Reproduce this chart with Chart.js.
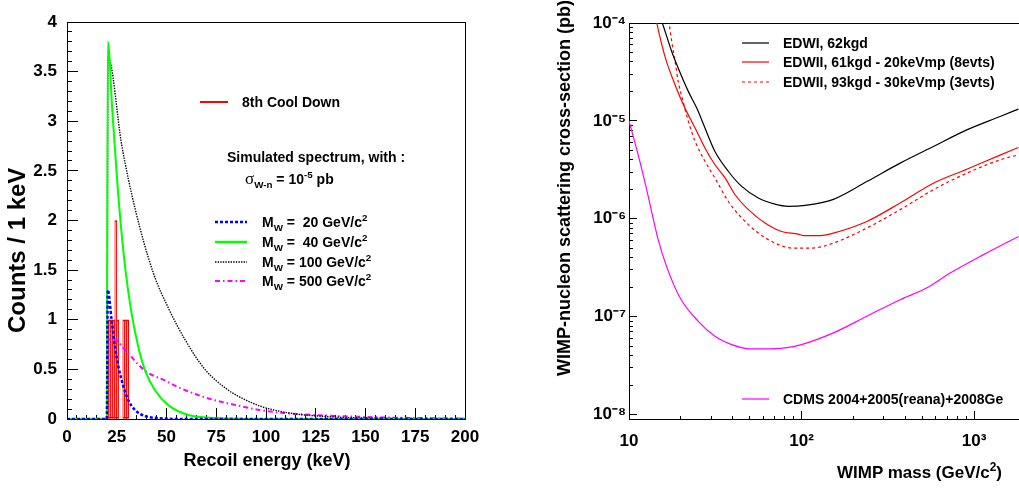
<!DOCTYPE html>
<html>
<head>
<meta charset="utf-8">
<title>Recoil spectrum and WIMP cross-section limits</title>
<script src="https://cdn.jsdelivr.net/npm/chart.js@4.4.1/dist/chart.umd.min.js"></script>
<style>
  html, body { margin: 0; padding: 0; background: #fff; }
  body { position: relative; width: 1019px; height: 489px; overflow: hidden;
         font-family: "Liberation Sans", Arial, Helvetica, sans-serif; font-weight: bold; color: #000; }
  .box { position: absolute; top: 0; height: 489px; }
  #spectrumBox { left: 0; width: 500px; }
  #limitBox { left: 500px; width: 535px; }
  .txt { position: absolute; white-space: pre; font-size: 14px; line-height: 16px; }
  .smp { position: absolute; }
  .ttl { position: absolute; white-space: pre; line-height: 22px; }
  .vert { writing-mode: vertical-rl; transform: rotate(180deg); }
  sub, sup { font-size: 70%; line-height: 0; }
  .sym { font-family: "Liberation Serif", "DejaVu Serif", serif; font-weight: normal; font-size: 17px; }
</style>
</head>
<body>
<div class="box" id="spectrumBox"><canvas id="spectrumChart"></canvas></div>
<div class="box" id="limitBox"><canvas id="limitChart"></canvas></div>

<!-- left panel: legend and notes -->
<svg class="smp" style="left:200px;top:96px" width="28" height="12"><line x1="0" y1="6" x2="28" y2="6" stroke="#ff0000" stroke-width="2"/></svg>
<div class="txt" style="left:242px;top:94px">8th Cool Down</div>
<div class="txt" style="left:227px;top:149px">Simulated spectrum, with :</div>
<div class="txt" style="left:245px;top:171px"><span class="sym">σ</span><sub>W-n</sub> = 10<sup>-5</sup> pb</div>

<svg class="smp" style="left:215px;top:216px" width="32" height="12"><line x1="0" y1="6" x2="32" y2="6" stroke="#0000ff" stroke-width="2.5" stroke-dasharray="3 2"/></svg>
<div class="txt" style="left:262px;top:214px">M<sub>W</sub> =  20 GeV/c<sup>2</sup></div>
<svg class="smp" style="left:215px;top:236px" width="32" height="12"><line x1="0" y1="6" x2="32" y2="6" stroke="#00ff00" stroke-width="2.5"/></svg>
<div class="txt" style="left:262px;top:234px">M<sub>W</sub> =  40 GeV/c<sup>2</sup></div>
<svg class="smp" style="left:215px;top:256px" width="32" height="12"><line x1="0" y1="6" x2="32" y2="6" stroke="#000" stroke-width="1.4" stroke-dasharray="1.4 1.2"/></svg>
<div class="txt" style="left:262px;top:254px">M<sub>W</sub> = 100 GeV/c<sup>2</sup></div>
<svg class="smp" style="left:215px;top:275px" width="32" height="12"><line x1="0" y1="6" x2="32" y2="6" stroke="#ff00ff" stroke-width="2" stroke-dasharray="5 3 1.5 3"/></svg>
<div class="txt" style="left:262px;top:273px">M<sub>W</sub> = 500 GeV/c<sup>2</sup></div>

<div class="ttl" style="left:117px;top:449px;width:300px;text-align:center;font-size:18px">Recoil energy (keV)</div>
<div class="ttl vert" style="left:6px;top:100px;height:300px;width:24px;text-align:center;font-size:24px">Counts / 1 keV</div>

<!-- right panel: legend and titles -->
<svg class="smp" style="left:742px;top:37px" width="27" height="12"><line x1="0" y1="6" x2="27" y2="6" stroke="#000" stroke-width="1.2"/></svg>
<div class="txt" style="left:783px;top:35px">EDWI, 62kgd</div>
<svg class="smp" style="left:742px;top:56px" width="27" height="12"><line x1="0" y1="6" x2="27" y2="6" stroke="#ff0000" stroke-width="1.2"/></svg>
<div class="txt" style="left:783px;top:54px">EDWII, 61kgd - 20keVmp (8evts)</div>
<svg class="smp" style="left:742px;top:76px" width="27" height="12"><line x1="0" y1="6" x2="27" y2="6" stroke="#ff0000" stroke-width="1.2" stroke-dasharray="3 3"/></svg>
<div class="txt" style="left:783px;top:74px">EDWII, 93kgd - 30keVmp (3evts)</div>
<svg class="smp" style="left:742px;top:393px" width="27" height="12"><line x1="0" y1="6" x2="27" y2="6" stroke="#ff00ff" stroke-width="1.2"/></svg>
<div class="txt" style="left:783px;top:391px">CDMS 2004+2005(reana)+2008Ge</div>

<div class="ttl" style="left:700px;top:462px;width:302px;text-align:right;font-size:17px">WIMP mass (GeV/c<sup>2</sup>)</div>
<div class="ttl vert" style="left:553px;top:0px;width:22px;font-size:18px">WIMP-nucleon scattering cross-section (pb)</div>

<script>
// ---- left panel : 8th cool down events and simulated spectra (counts / 1 keV) ----
const coolDownBins   = [20.5, 21.5, 22.5, 23.5, 24.5, 25.5, 28.5, 29.5, 30.5];
const coolDownCounts = [1, 1, 1, 1, 2, 1, 1, 1, 1];

const m20Energy = [0, 20, 20.5, 22.4, 24.1, 25.8, 28.3, 30.8, 34.2, 39.2, 45, 60, 200];
const m20Counts = [0, 0, 1.30, 1.00, 0.73, 0.53, 0.33, 0.19, 0.09, 0.03, 0.01, 0, 0];

const m40Energy = [0, 20, 20.5, 22.8, 26.2, 29.5, 32.5, 35.8, 39.2, 44.2, 50.9, 61, 75, 100, 200];
const m40Counts = [0, 0, 3.80, 3.10, 2.15, 1.48, 1.06, 0.73, 0.49, 0.29, 0.14, 0.04, 0.01, 0, 0];

const m100Energy = [0, 20, 20.6, 27.5, 34.2, 43.4, 50.9, 59.3, 69.3, 81.1, 87, 97, 112, 130, 150, 175, 200];
const m100Counts = [0, 0, 3.65, 2.76, 2.12, 1.47, 1.12, 0.80, 0.50, 0.29, 0.22, 0.13, 0.06, 0.025, 0.01, 0.004, 0.001];

const m500Energy = [0, 20, 20.5, 24, 29, 39, 50, 56, 69, 87, 97, 112, 130, 150, 175, 200];
const m500Counts = [0, 0, 0.80, 0.80, 0.70, 0.49, 0.38, 0.32, 0.22, 0.13, 0.09, 0.055, 0.035, 0.02, 0.01, 0.005];

// ---- right panel : WIMP-nucleon cross-section limits (pb) vs WIMP mass (GeV/c2) ----
const edw1Mass = [15, 15.6, 17.7, 19.3, 22.1, 24.7, 27.6, 31.5, 37.7, 45, 56.2, 70.2, 83.8, 105, 153, 239, 373, 581, 907, 1416, 1807];
const edw1Xsec = [1.2e-4, 1.0e-4, 5.09e-5, 3.45e-5, 1.99e-5, 1.35e-5, 8.41e-6, 4.86e-6, 3.04e-6, 2.14e-6, 1.63e-6, 1.41e-6,
                  1.34e-6, 1.37e-6, 1.58e-6, 2.40e-6, 3.70e-6, 5.47e-6, 8.09e-6, 1.11e-5, 1.32e-5];

const edw2Mass = [14, 14.5, 15.5, 16.5, 18.5, 21.1, 24.2, 27.6, 31.5, 36.1, 41.2, 49.2, 61.4, 76.7, 95.7, 103, 125, 153, 239, 373, 581, 907, 1416, 1807];
const edw2Xsec = [1.41e-4, 1.0e-4, 5.97e-5, 4.03e-5, 2.33e-5, 1.35e-5, 8.41e-6, 5.26e-6, 3.56e-6, 2.60e-6, 1.76e-6, 1.24e-6,
                  9.04e-7, 7.41e-7, 6.98e-7, 6.71e-7, 6.71e-7, 7.14e-7, 9.38e-7, 1.45e-6, 2.31e-6, 3.21e-6, 4.47e-6, 5.35e-6];

const edw2bMass = [16.8, 17.1, 17.7, 18.5, 19.3, 20.6, 22.1, 24.2, 27.6, 31.5, 37.7, 45, 56.2, 70.2, 88, 115, 153, 239, 373, 581, 907, 1416, 1807];
const edw2bXsec = [1.41e-4, 1.0e-4, 6.44e-5, 4.03e-5, 2.52e-5, 1.57e-5, 9.84e-6, 6.15e-6, 3.85e-6, 2.60e-6, 1.50e-6, 1.02e-6,
                   7.14e-7, 5.65e-7, 5.02e-7, 5.02e-7, 5.65e-7, 8.04e-7, 1.24e-6, 1.98e-6, 2.92e-6, 4.00e-6, 4.50e-6];

const cdmsMass = [10, 11.3, 12.6, 14.7, 16.5, 19.8, 25.2, 31.5, 39.4, 50.3, 61.4, 80.2, 100, 153, 239, 373, 530, 726, 1133, 1807];
const cdmsXsec = [1.0e-5, 4.50e-6, 2.06e-6, 6.31e-7, 3.26e-7, 1.55e-7, 8.95e-8, 6.30e-8, 5.18e-8, 4.68e-8, 4.68e-8, 4.79e-8,
                  5.18e-8, 6.82e-8, 1.01e-7, 1.49e-7, 1.96e-7, 2.79e-7, 4.30e-7, 6.59e-7];

const massDecades = [10, 100, 1000];
const massDecadeLabels = ['10', '10²', '10³'];
const xsecDecades = [1e-8, 1e-7, 1e-6, 1e-5, 1e-4];
const xsecDecadeLabels = ['10⁻⁸', '10⁻⁷', '10⁻⁶', '10⁻⁵', '10⁻⁴'];
const massMin = 10, massMax = 2000;
const xsecMin = 9.1e-9, xsecMax = 1e-4;

// log ticks: 1..9 times each decade inside the range
function logTicks(decades, lo, hi) {
    var out = [];
    decades.forEach(function (d) {
        for (var k = 1; k <= 9; k++) {
            var v = k * d;
            if (v >= lo && v < hi) out.push(v);
        }
    });
    return out;
}
const massTicks = logTicks(massDecades, massMin, massMax);
const xsecTicks = logTicks([1e-9].concat(xsecDecades), xsecMin, xsecMax * 1.001);

const FONT = '"Liberation Sans", Arial, Helvetica, sans-serif';
Chart.defaults.font.family = FONT;
Chart.defaults.color = '#000';
const tickFont = { family: FONT, size: 17, weight: 'bold' };

function xy(xs, ys) {
    return xs.map(function (x, i) { return { x: x, y: ys[i] }; });
}

function line(label, xs, ys, color, width, dash) {
    return { label: label, data: xy(xs, ys), borderColor: color, borderWidth: width,
             borderDash: dash || [], pointRadius: 0, cubicInterpolationMode: 'monotone',
             fill: false, order: 1 };
}

// fixed axis thickness, and no extra room asked for the end labels
function fixSize(size) {
    return function (s) {
        if (s.isHorizontal()) s.height = size; else s.width = size;
        s.paddingTop = 0; s.paddingBottom = 0; s.paddingLeft = 0; s.paddingRight = 0;
    };
}

// frame axis (top / right side of the box, no ticks)
function frameAxis(axis, position, type, min, max) {
    return {
        axis: axis, type: type, position: position, min: min, max: max,
        afterFit: fixSize(0),
        ticks: { display: false },
        grid: { drawOnChartArea: false, drawTicks: false },
        border: { display: true, color: '#000', width: 1 }
    };
}

// ticks are drawn inward (negative length); minor ones are shortened with a dash
// x (bottom) ticks run frame -> inside, y (left) ticks run inside -> frame
function bottomTickDash(isMajor, len, minorLen) {
    return function (ctx) {
        if (!ctx.tick) return [];
        return isMajor(ctx.tick.value) ? [] : [minorLen, 100];
    };
}
function leftTickDash(isMajor, len, minorLen) {
    return function (ctx) {
        if (!ctx.tick) return [];
        return isMajor(ctx.tick.value) ? [] : [0, len - minorLen, minorLen, 100];
    };
}

const isHalf = function (v) { return Math.abs(v * 2 - Math.round(v * 2)) < 1e-6; };
const isQuarterHundred = function (v) { return Math.abs(v / 25 - Math.round(v / 25)) < 1e-6; };
const isMassDecade = function (v) { return massDecades.indexOf(v) >= 0; };
const isXsecDecade = function (v) { return xsecDecades.some(function (d) { return Math.abs(v / d - 1) < 1e-6; }); };

const baseOptions = {
    responsive: true,
    maintainAspectRatio: false,
    animation: false,
    events: [],
    plugins: { legend: { display: false }, tooltip: { enabled: false } }
};

// ---------------- left chart ----------------
new Chart(document.getElementById('spectrumChart'), {
    type: 'line',
    data: {
        datasets: [
            { type: 'bar', label: '8th Cool Down', data: xy(coolDownBins, coolDownCounts),
              backgroundColor: 'rgba(255,0,0,0)', borderColor: '#ff0000', borderWidth: 1.2,
              borderSkipped: false, barPercentage: 1, categoryPercentage: 1, order: 5 },
            line('M_W = 20 GeV/c2', m20Energy, m20Counts, '#0000ff', 2.5, [3, 2]),
            line('M_W = 40 GeV/c2', m40Energy, m40Counts, '#00ff00', 2, null),
            line('M_W = 100 GeV/c2', m100Energy, m100Counts, '#000000', 1.4, [1.4, 1.2]),
            line('M_W = 500 GeV/c2', m500Energy, m500Counts, '#ff00ff', 2, [5, 3, 1.5, 3])
        ]
    },
    options: Object.assign({}, baseOptions, {
        layout: { padding: { top: 22, right: 35, left: 0, bottom: 0 } },
        scales: {
            x: {
                type: 'linear', position: 'bottom', min: 0, max: 200, offset: false,
                afterFit: fixSize(70),
                ticks: { stepSize: 5, font: tickFont, color: '#000', padding: 19, maxRotation: 0, autoSkip: false,
                         callback: function (v) { return isQuarterHundred(v) ? String(Math.round(v)) : ''; } },
                grid: { drawOnChartArea: false, offset: false, tickLength: -11, tickColor: '#000', tickWidth: 1,
                        tickBorderDash: bottomTickDash(isQuarterHundred, 11, 5) },
                border: { color: '#000', width: 1 }
            },
            xTop: frameAxis('x', 'top', 'linear', 0, 200),
            y: {
                type: 'linear', position: 'left', min: 0, max: 4,
                afterFit: fixSize(67),
                ticks: { stepSize: 0.1, font: tickFont, color: '#000', padding: 21, autoSkip: false,
                         callback: function (v) { return isHalf(v) ? String(Math.round(v * 10) / 10) : ''; } },
                grid: { drawOnChartArea: false, tickLength: -11, tickColor: '#000', tickWidth: 1,
                        tickBorderDash: leftTickDash(isHalf, 11, 5) },
                border: { color: '#000', width: 1 }
            },
            yRight: frameAxis('y', 'right', 'linear', 0, 4)
        }
    })
});

// ---------------- right chart ----------------
new Chart(document.getElementById('limitChart'), {
    type: 'line',
    data: {
        datasets: [
            line('EDWI, 62kgd', edw1Mass, edw1Xsec, '#000000', 1.2, null),
            line('EDWII, 61kgd - 20keVmp (8evts)', edw2Mass, edw2Xsec, '#ff0000', 1.2, null),
            line('EDWII, 93kgd - 30keVmp (3evts)', edw2bMass, edw2bXsec, '#ff0000', 1.2, [3, 3]),
            line('CDMS 2004+2005(reana)+2008Ge', cdmsMass, cdmsXsec, '#ff00ff', 1.2, null)
        ]
    },
    options: Object.assign({}, baseOptions, {
        layout: { padding: { top: 23, right: 9, left: 0, bottom: 0 } },
        scales: {
            x: {
                type: 'logarithmic', position: 'bottom', min: massMin, max: massMax,
                afterBuildTicks: function (s) { s.ticks = massTicks.map(function (v) { return { value: v }; }); },
                afterFit: fixSize(70),
                ticks: { font: tickFont, color: '#000', padding: 20, maxRotation: 0, autoSkip: false,
                         callback: function (v) { var i = massDecades.indexOf(v); return i >= 0 ? massDecadeLabels[i] : ''; } },
                grid: { drawOnChartArea: false, tickLength: -8, tickColor: '#000', tickWidth: 1,
                        tickBorderDash: bottomTickDash(isMassDecade, 8, 4) },
                border: { color: '#000', width: 1 }
            },
            xTop: frameAxis('x', 'top', 'logarithmic', massMin, massMax),
            y: {
                type: 'logarithmic', position: 'left', min: xsecMin, max: xsecMax,
                afterBuildTicks: function (s) { s.ticks = xsecTicks.map(function (v) { return { value: v }; }); },
                afterFit: fixSize(129),
                ticks: { font: tickFont, color: '#000', padding: 11, autoSkip: false,
                         callback: function (v) {
                             for (var i = 0; i < xsecDecades.length; i++) {
                                 if (Math.abs(v / xsecDecades[i] - 1) < 1e-6) return xsecDecadeLabels[i];
                             }
                             return '';
                         } },
                grid: { drawOnChartArea: false, tickLength: -8, tickColor: '#000', tickWidth: 1,
                        tickBorderDash: leftTickDash(isXsecDecade, 8, 4) },
                border: { color: '#000', width: 1 }
            }
        }
    })
});
</script>
</body>
</html>
